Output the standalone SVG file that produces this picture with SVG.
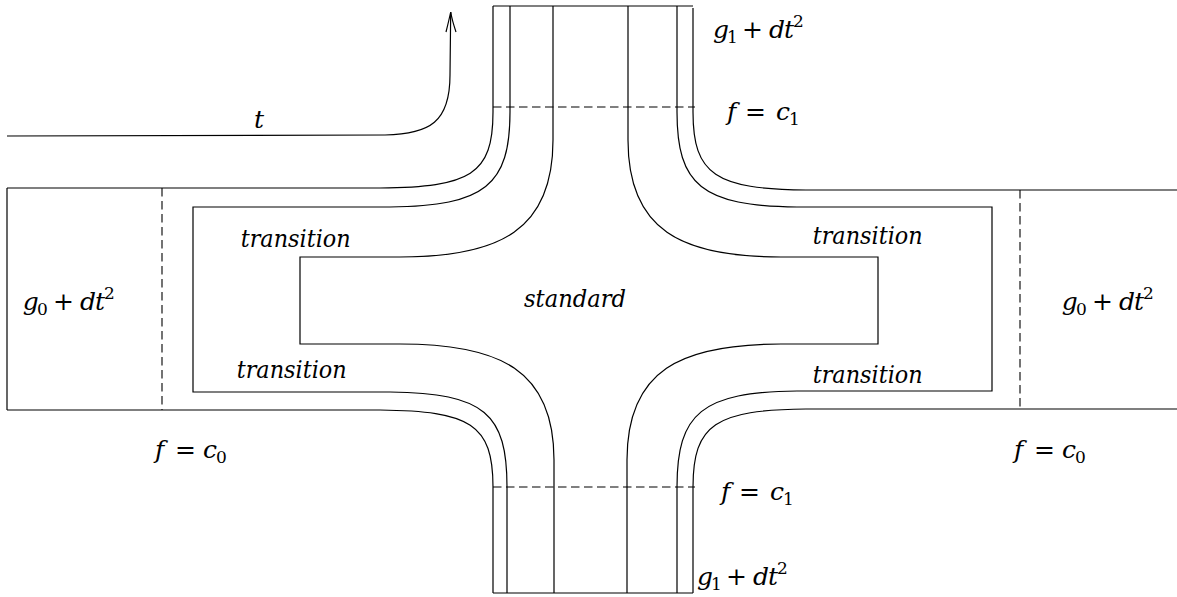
<svg xmlns="http://www.w3.org/2000/svg" width="1177" height="597" viewBox="0 0 1177 597">
<style>
.ln{fill:none;stroke:#000;stroke-width:1.2}
.dash{fill:none;stroke:#000;stroke-width:1.1;stroke-dasharray:8.5 4.5}
.tx{font-family:'DejaVu Serif',serif;font-size:25px;fill:#000}
.it{font-style:italic}
.sm{font-size:17px;font-style:normal}
.up{font-style:normal}
</style>
<rect width="1177" height="597" fill="#fff"/>
<g id="roads">
<path class="ln" d="M493 6 L693 6"/>
<path class="ln" d="M493 593 L693 593"/>
<path class="ln" d="M7 188 L7 410"/>
<path class="ln" d="M493 6 L493 112 C493 175 470 187 380 188 L7 188"/>
<path class="ln" d="M7 410 L380 410 C470 411 493 424 493 487 L493 593"/>
<path class="ln" d="M510 6 L510 112 C510 185 485 206 390 207 L193 207 L193 392 L390 392 C485 393 507 414 507 487 L507 593"/>
<path class="ln" d="M553 6 L553 140 C553 230 500 257 400 257 L300 257 L300 344 L400 344 C500 344 554 370 554 460 L554 593"/>
<path class="ln" d="M628 6 L628 140 C628 230 681 257 781 257 L878 257 L878 344 L781 344 C681 344 627 370 627 460 L627 593"/>
<path class="ln" d="M677 6 L677 112 C677 185 702 206 797 207 L992 207 L992 391 L797 391 C702 392 677 413 677 487 L677 593"/>
<path class="ln" d="M693 8 L693 112 C693 175 716 189 806 190 L1177 190"/>
<path class="ln" d="M1177 409 L806 409 C716 410 693 424 693 487 L693 593"/>
</g>
<g id="levelsets">
<path class="dash" d="M493 107 L695 107"/>
<path class="dash" d="M493 487 L695 487"/>
<path class="dash" d="M162 188 L162 410"/>
<path class="dash" d="M1020 190 L1020 409"/>
</g>
<g id="connectors">
<path class="ln" d="M7 136 L385 135 C430 134 450 122 450 75 L450.7 12"/>
<path class="ln" d="M446 32 Q449 20 450.7 12 Q452 20 456 32"/>
</g>
<g id="labels" class="tx">
<text class="it" x="254" y="128">t</text>
<text class="it" x="240.7" y="247" textLength="110" lengthAdjust="spacingAndGlyphs">transition</text>
<text class="it" x="236.7" y="378" textLength="110" lengthAdjust="spacingAndGlyphs">transition</text>
<text class="it" x="812.7" y="244" textLength="110" lengthAdjust="spacingAndGlyphs">transition</text>
<text class="it" x="812.7" y="383" textLength="110" lengthAdjust="spacingAndGlyphs">transition</text>
<text class="it" x="524" y="307" textLength="102" lengthAdjust="spacingAndGlyphs">standard</text>
<text x="22.7" y="310"><tspan class="it">g</tspan><tspan class="sm" x="37" y="315">0</tspan><tspan class="up" x="53" y="310">+</tspan><tspan class="it" x="80">d</tspan><tspan class="it" x="95">t</tspan><tspan class="sm" x="104" y="299">2</tspan></text>
<text x="1061.7" y="310"><tspan class="it">g</tspan><tspan class="sm" x="1076" y="315">0</tspan><tspan class="up" x="1092" y="310">+</tspan><tspan class="it" x="1119">d</tspan><tspan class="it" x="1134">t</tspan><tspan class="sm" x="1143" y="299">2</tspan></text>
<text x="713" y="38"><tspan class="it">g</tspan><tspan class="sm" x="727" y="43">1</tspan><tspan class="up" x="742" y="38">+</tspan><tspan class="it" x="769">d</tspan><tspan class="it" x="784">t</tspan><tspan class="sm" x="793" y="27">2</tspan></text>
<text x="697" y="585"><tspan class="it">g</tspan><tspan class="sm" x="711" y="590">1</tspan><tspan class="up" x="726" y="585">+</tspan><tspan class="it" x="753">d</tspan><tspan class="it" x="768">t</tspan><tspan class="sm" x="777" y="574">2</tspan></text>
<text x="727" y="120"><tspan class="it">f</tspan><tspan class="up" x="745">=</tspan><tspan class="it" x="776">c</tspan><tspan class="sm" x="789" y="125">1</tspan></text>
<text x="721" y="500"><tspan class="it">f</tspan><tspan class="up" x="739">=</tspan><tspan class="it" x="770">c</tspan><tspan class="sm" x="783" y="505">1</tspan></text>
<text x="155" y="458"><tspan class="it">f</tspan><tspan class="up" x="175">=</tspan><tspan class="it" x="203">c</tspan><tspan class="sm" x="216" y="463">0</tspan></text>
<text x="1014" y="458"><tspan class="it">f</tspan><tspan class="up" x="1034">=</tspan><tspan class="it" x="1062">c</tspan><tspan class="sm" x="1075" y="463">0</tspan></text>
</g>
</svg>
